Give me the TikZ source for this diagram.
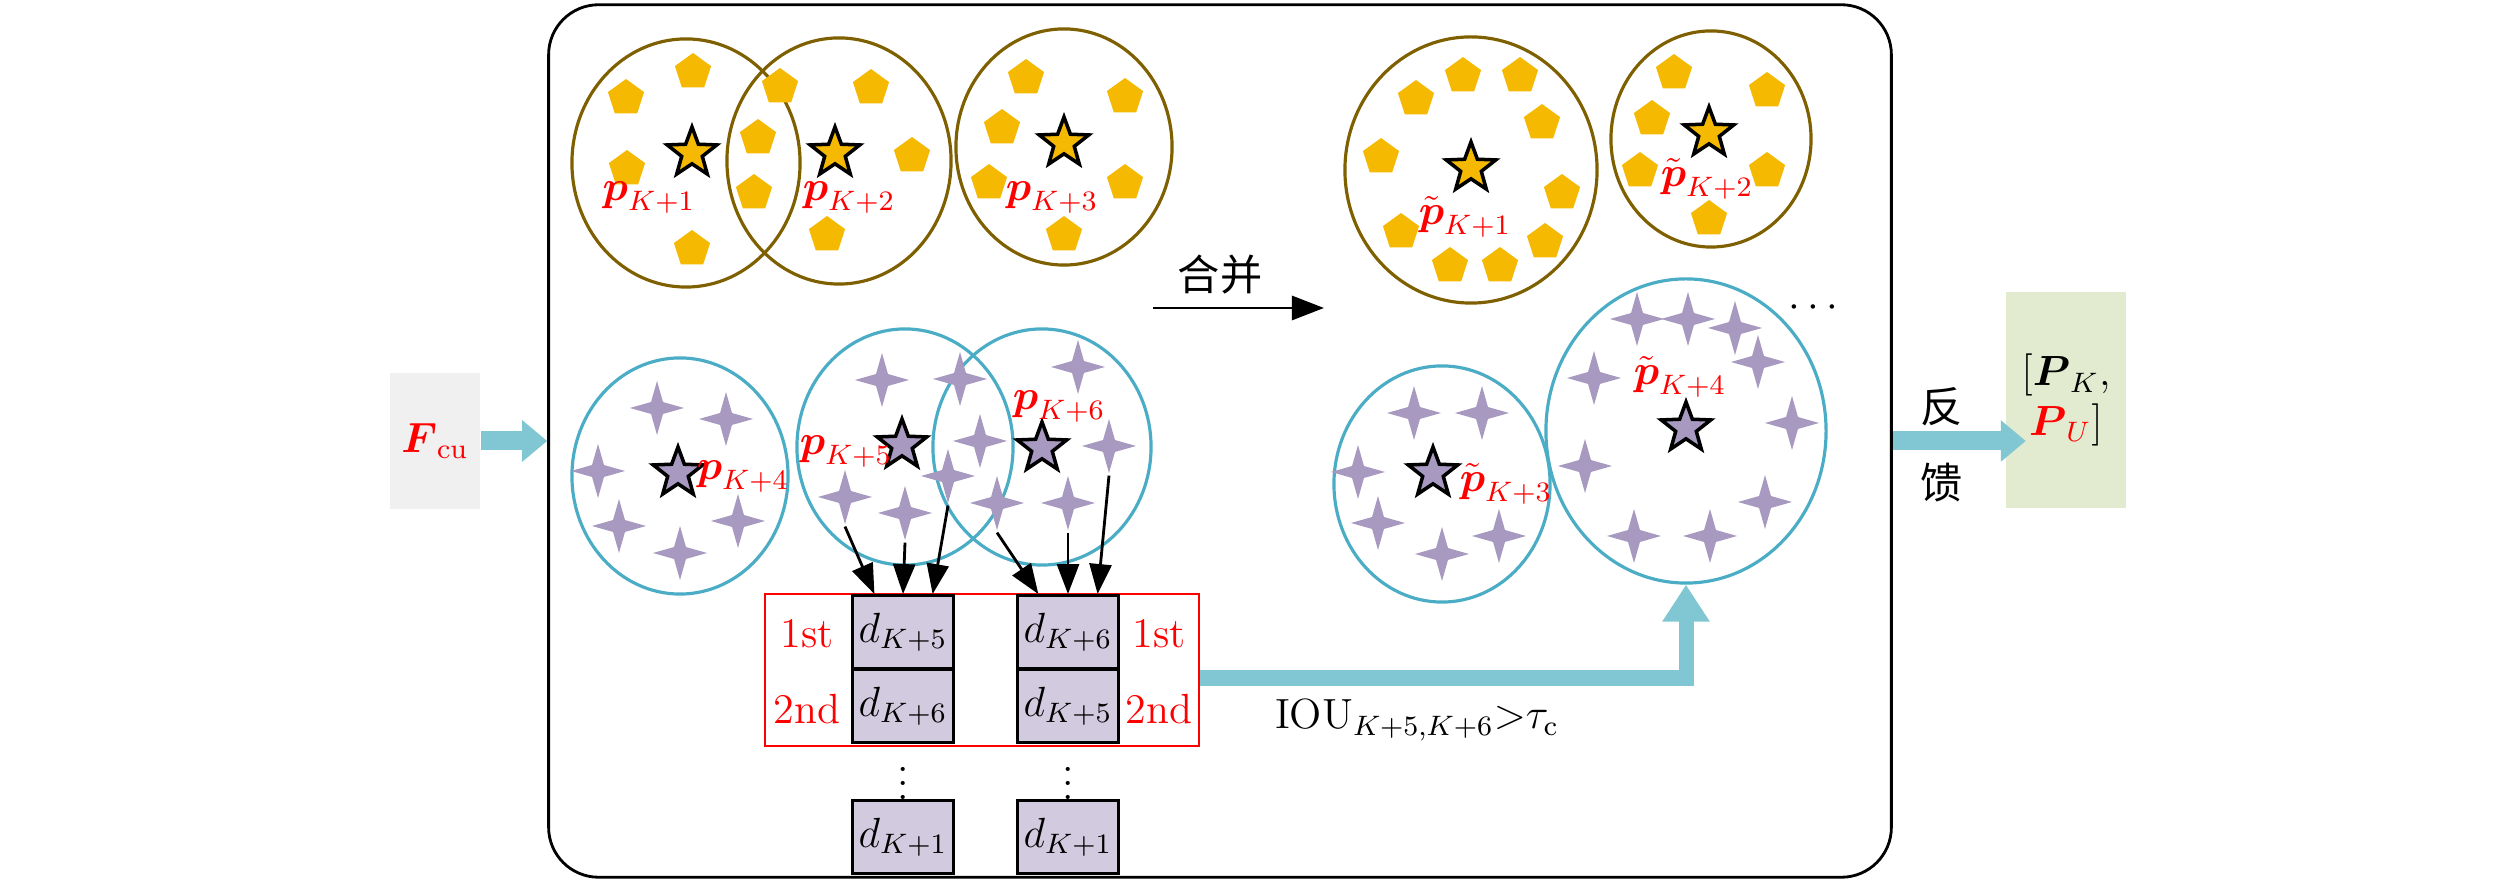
\documentclass[tikz,border=0pt]{standalone}
\usepackage{amsmath}
\usepackage{fontspec}
\newfontfamily\cjk{Noto Sans CJK SC}
\usetikzlibrary{shapes.geometric,arrows.meta}
\definecolor{brownline}{RGB}{127,96,0}
\definecolor{blueline}{RGB}{75,172,198}
\definecolor{yellowfill}{RGB}{244,185,0}
\definecolor{purplefill}{RGB}{167,153,192}
\definecolor{boxfill}{RGB}{210,203,224}
\definecolor{fatcyan}{RGB}{128,199,211}
\definecolor{greybox}{RGB}{240,240,240}
\definecolor{greenbox}{RGB}{226,235,208}
\begin{document}
\begin{tikzpicture}[x=0.01cm,y=-0.01cm,font=\large,
    penta/.style={regular polygon,regular polygon sides=5,fill=yellowfill,minimum size=0.38cm,inner sep=0},
    spark/.style={star,star points=4,star point ratio=3.2,fill=purplefill,minimum size=0.54cm,inner sep=0},
    centre/.style={star,star points=5,star point ratio=2.4,draw=black,line width=1pt,minimum size=0.52cm,inner sep=0},
    brownring/.style={ellipse,draw=brownline,line width=0.9pt,inner sep=0},
    bluering/.style={ellipse,draw=blueline,line width=0.9pt,inner sep=0},
    dbox/.style={draw,thick,fill=boxfill,minimum width=1.01cm,minimum height=0.73cm,inner sep=0},
    fat/.style={draw=fatcyan,line width=0.19cm,-{Triangle[length=0.25cm,width=0.40cm]}},
    arr/.style={thick,-{Triangle[length=0.3cm,width=0.22cm]}}]
  \useasboundingbox (0,0) rectangle (2520,883);
  \node[draw,thick,rounded corners=0.5cm,minimum width=13.42cm,minimum height=8.72cm] (frame) at (1220,441) {};
  \node[fill=greybox,minimum width=0.86cm,minimum height=1.35cm] (fcu) at (435,441) {\color{red}$\boldsymbol{F}_{\mathrm{cu}}$};
  \node[fill=greenbox,minimum width=1.19cm,minimum height=2.15cm,align=center] (out) at (2066,400)
    {$[\boldsymbol{P}_{K}$,\\ $\color{red}\boldsymbol{P}_{U}\color{black}]$};
  \draw[fat] (fcu.east) -- (frame.west);
  \draw[fat,shorten >=-0.2cm] (frame.east) -- (frame.east -| out.west);
  \node (fb1) at (1942,407) {\cjk 反};
  \node (fb2) at (1942,483) {\cjk 馈};

  % clusters before merging
  \node[brownring,minimum width=2.28cm,minimum height=2.48cm] (E1) at (686,163) {};
  \node[brownring,minimum width=2.24cm,minimum height=2.46cm] (E2) at (839,161) {};
  \node[brownring,minimum width=2.16cm,minimum height=2.36cm] (E3) at (1064,147) {};
  \node[bluering,minimum width=2.16cm,minimum height=2.36cm] (B1) at (680,476) {};
  \node[bluering,minimum width=2.16cm,minimum height=2.36cm] (B2) at (905,447) {};
  \node[bluering,minimum width=2.18cm,minimum height=2.36cm] (B3) at (1042,447) {};
  % clusters after merging
  \node[brownring,minimum width=2.52cm,minimum height=2.66cm] (E4) at (1471,170) {};
  \node[brownring,minimum width=2.00cm,minimum height=2.16cm] (E5) at (1711,139) {};
  \node[bluering,minimum width=2.16cm,minimum height=2.36cm] (B4) at (1442,484) {};
  \node[bluering,minimum width=2.80cm,minimum height=3.04cm] (B5) at (1686,431) {};

  \foreach \x/\y [count=\i] in {693/72,626/98,627/169,692/249,780/87,758/138,754/193,871/88,912/156,827/235,
      1026/78,1125/97,1002/128,989/183,1125/183,1064/235,1463/76,1520/76,1416/99,1542/123,1381/157,
      1562/193,1401/232,1545/242,1450/266,1500/266,1674/73,1767/91,1652/119,1640/171,1767/171,1709/219}
    \node[penta] (pt\i) at (\x,\y) {};
  \foreach \x/\y [count=\i] in {657/408,726/419,598/471,619/526,738/521,680/553,882/380,960/379,980/441,
      1078/367,1414/413,1482/413,1358/472,1378/523,1442/554,1499/536,1637/319,1688/319,1735/328,
      1758/362,1594/378,1792/423,1585/466,1765/502,1634/536,1710/536}
    \node[spark] (sp\i) at (\x,\y) {};
  \node[spark] (s1) at (845,497) {};
  \node[spark] (s2) at (905,513) {};
  \node[spark] (s3) at (948,476) {};
  \node[spark] (s4) at (997,503) {};
  \node[spark] (s5) at (1068,503) {};
  \node[spark] (s6) at (1109,446) {};

  \node[centre,fill=yellowfill] (c1) at (692,153) {};
  \node[centre,fill=yellowfill] (c2) at (835,153) {};
  \node[centre,fill=yellowfill] (c3) at (1064,143) {};
  \node[centre,fill=yellowfill] (c4) at (1471,168) {};
  \node[centre,fill=yellowfill] (c5) at (1709,133) {};
  \node[centre,fill=purplefill] (c6) at (678,473) {};
  \node[centre,fill=purplefill] (c7) at (902,445) {};
  \node[centre,fill=purplefill] (c8) at (1042,448) {};
  \node[centre,fill=purplefill] (c9) at (1433,473) {};
  \node[centre,fill=purplefill] (c10) at (1686,428) {};

  \node[red,inner sep=0] (l1) at (649,198) {$\boldsymbol{p}_{K+1}$};
  \node[red,inner sep=0] (l2) at (849,198) {$\boldsymbol{p}_{K+2}$};
  \node[red,inner sep=0] (l3) at (1052,198) {$\boldsymbol{p}_{K+3}$};
  \node[red,inner sep=0] (l4) at (743,477) {$\boldsymbol{p}_{K+4}$};
  \node[red,inner sep=0] (l5) at (846,452) {$\boldsymbol{p}_{K+5}$};
  \node[red,inner sep=0] (l6) at (1059,407) {$\boldsymbol{p}_{K+6}$};
  \node[red,inner sep=0] (m1) at (1465,217) {$\tilde{\boldsymbol{p}}_{K+1}$};
  \node[red,inner sep=0] (m2) at (1707,179) {$\tilde{\boldsymbol{p}}_{K+2}$};
  \node[red,inner sep=0] (m3) at (1506,484) {$\tilde{\boldsymbol{p}}_{K+3}$};
  \node[red,inner sep=0] (m4) at (1680,377) {$\tilde{\boldsymbol{p}}_{K+4}$};
  \node (hdots) at (1817,308) {$\cdots$};

  % merge step
  \node (merge) at (1220,275) {\cjk 合并};
  \coordinate (ma) at (1153,308);
  \coordinate (mb) at (1324,308);
  \draw[thick,-{Triangle[length=0.32cm,width=0.24cm]}] (ma) -- (mb);

  % distance ranking
  \node[draw=red,line width=0.7pt,minimum width=4.34cm,minimum height=1.52cm] (sel) at (982,670) {};
  \node[dbox] (dA1) at (903,632) {$d_{K+5}$};
  \node[dbox] (dA2) at (903,706) {$d_{K+6}$};
  \node[dbox] (dA3) at (903,837) {$d_{K+1}$};
  \node[dbox] (dB1) at (1068,632) {$d_{K+6}$};
  \node[dbox] (dB2) at (1068,706) {$d_{K+5}$};
  \node[dbox] (dB3) at (1068,837) {$d_{K+1}$};
  \node (vd1) at (903,773) {$\vdots$};
  \node (vd2) at (1068,773) {$\vdots$};
  \node[red] (r1) at (807,634) {1st};
  \node[red] (r2) at (807,709) {2nd};
  \node[red] (r3) at (1159,634) {1st};
  \node[red] (r4) at (1159,709) {2nd};
  \draw[arr] (s1.south) -- (dA1.127);
  \draw[arr] (s2.south) -- (dA1.north);
  \draw[arr] (s3.south) -- (dA1.52);
  \draw[arr] (s4.south) -- (dB1.128);
  \draw[arr] (s5.south) -- (dB1.north);
  \draw[arr] (s6.south) -- (dB1.52);
  \draw[draw=fatcyan,line width=0.15cm,-{Triangle[length=0.37cm,width=0.45cm]}] ([yshift=-0.08cm]sel.east) -| (B5.south);
  \node (iou) at (1417,720) {$\mathrm{IOU}_{K+5,K+6}{>}\tau_{\mathrm{c}}$};
\end{tikzpicture}
\end{document}
